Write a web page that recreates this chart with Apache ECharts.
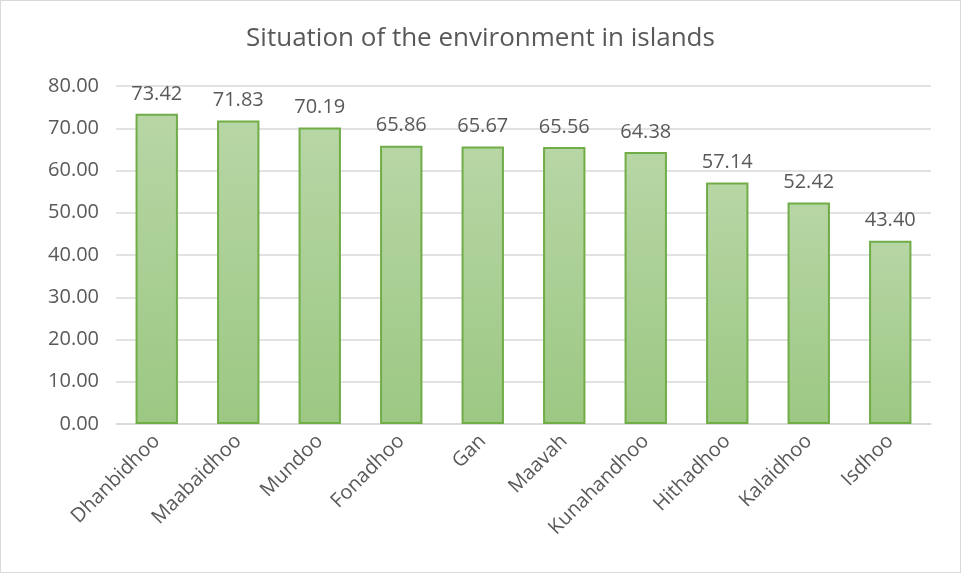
<!DOCTYPE html>
<html>
<head>
<meta charset="utf-8">
<script src="https://cdn.jsdelivr.net/npm/echarts@6/dist/echarts.min.js"></script>
</head>
<body style="margin:0">
<div id="main" style="width:959px;height:571px;border:1px solid #d9d9d9"></div>
<script type="text/javascript">
var islands = ['Dhanbidhoo', 'Maabaidhoo', 'Mundoo', 'Fonadhoo', 'Gan', 'Maavah', 'Kunahandhoo', 'Hithadhoo', 'Kalaidhoo', 'Isdhoo'];
var scores = [73.42, 71.83, 70.19, 65.86, 65.67, 65.56, 64.38, 57.14, 52.42, 43.40];

var chart = echarts.init(document.getElementById('main'));
var font = 'Open Sans';
chart.setOption({
    backgroundColor: '#fff',
    animation: false,
    title: {
        text: 'Situation of the environment in islands',
        left: 'center',
        top: 20,
        textStyle: { color: '#595959', fontSize: 26, fontWeight: 'normal', fontFamily: font }
    },
    grid: { left: 115, right: 29, top: 85, bottom: 148 },
    xAxis: {
        type: 'category',
        data: islands,
        axisLine: { lineStyle: { color: '#d9d9d9', width: 1.5 } },
        axisTick: { show: false },
        axisLabel: { rotate: 45, color: '#595959', fontSize: 20, fontFamily: font, margin: 14 }
    },
    yAxis: {
        type: 'value',
        min: 0,
        max: 80,
        interval: 10,
        axisLine: { show: false },
        axisTick: { show: false },
        splitLine: { lineStyle: { color: '#d9d9d9', width: 1.5 } },
        axisLabel: {
            color: '#595959', fontSize: 20, fontFamily: font, margin: 17,
            formatter: function (v) { return v.toFixed(2); }
        }
    },
    series: [{
        type: 'bar',
        data: scores,
        barWidth: '52%',
        itemStyle: {
            color: new echarts.graphic.LinearGradient(0, 0, 0, 1, [
                { offset: 0, color: '#b7d6a5' },
                { offset: 1, color: '#9cc883' }
            ]),
            borderColor: '#70ad47',
            borderWidth: 2
        },
        label: {
            show: true,
            position: 'top',
            distance: 10,
            color: '#595959',
            fontSize: 20,
            fontFamily: font,
            formatter: function (p) { return p.value.toFixed(2); }
        }
    }]
});
</script>
</body>
</html>
